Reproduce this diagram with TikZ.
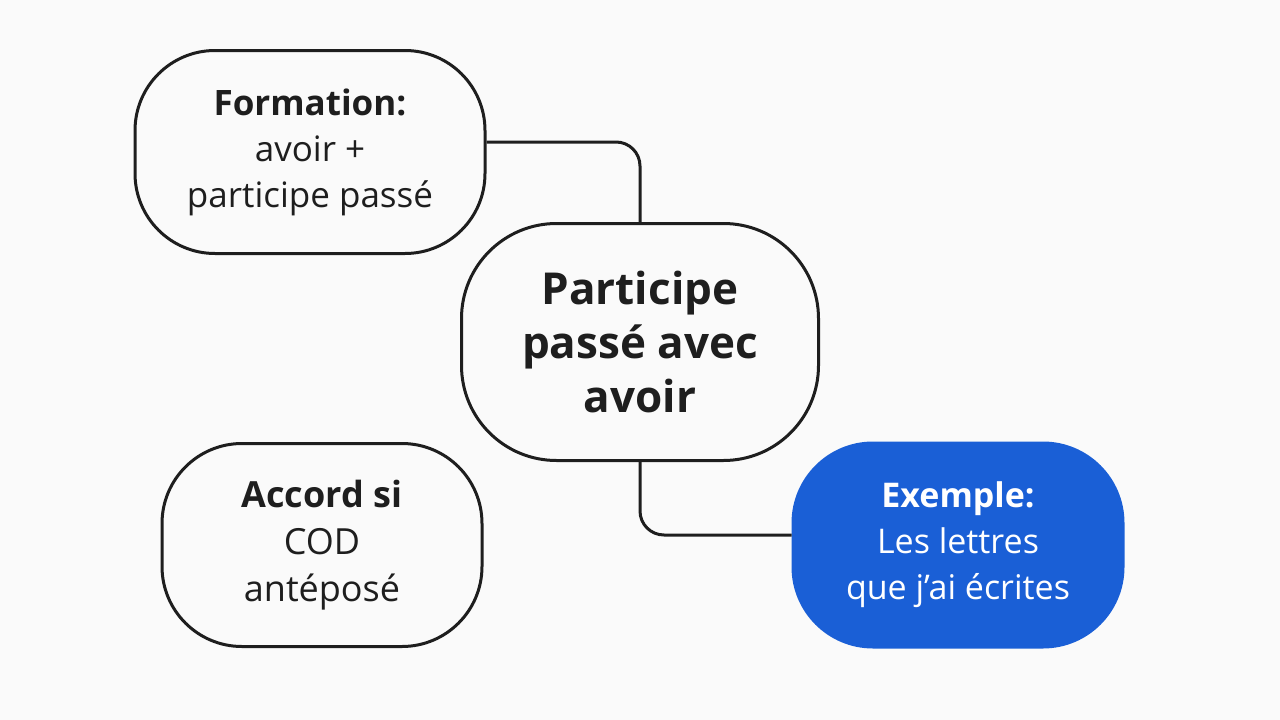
\documentclass[tikz,border=0pt]{standalone}
\usepackage{fontspec}
\setmainfont{Open Sans}
\definecolor{bg}{HTML}{FAFAFA}
\definecolor{ln}{HTML}{1E1E1E}
\definecolor{blu}{HTML}{1A5FD6}
\begin{document}
\begin{tikzpicture}[x=1pt,y=-1pt,
  box/.style={draw=ln,line width=3pt,rounded corners=80pt,align=center,inner sep=0pt,text=ln},
  conn/.style={draw=ln,line width=3pt,rounded corners=24pt}]
\fill[bg] (0,0) rectangle (1280,720);
\useasboundingbox (0,0) rectangle (1280,720);
\node[box,minimum width=350pt,minimum height=203pt,font=\fontsize{35}{46}\selectfont] (f) at (310,152)
  {\textbf{Formation:}\\avoir +\\participe passé};
\node[box,minimum width=357pt,minimum height=237pt,rounded corners=95pt,font=\fontsize{44}{54}\selectfont\bfseries] (c) at (640,342)
  {Participe\\passé avec\\avoir};
\node[box,minimum width=320pt,minimum height=203pt,font=\fontsize{36}{47}\selectfont] (a) at (322,545)
  {\textbf{Accord si}\\COD\\antéposé};
\node[box,draw=blu,fill=blu,text=white,minimum width=330pt,minimum height=204pt,font=\fontsize{34}{46}\selectfont] (e) at (958,545)
  {\textbf{Exemple:}\\Les lettres\\que j’ai écrites};
\coordinate (k1) at (640,142);
\coordinate (k2) at (640,535);
\draw[conn] (f.east|-k1) -- (k1) -- (c.north);
\draw[conn] (c.south) -- (k2) -- (e.west|-k2);
\end{tikzpicture}
\end{document}
